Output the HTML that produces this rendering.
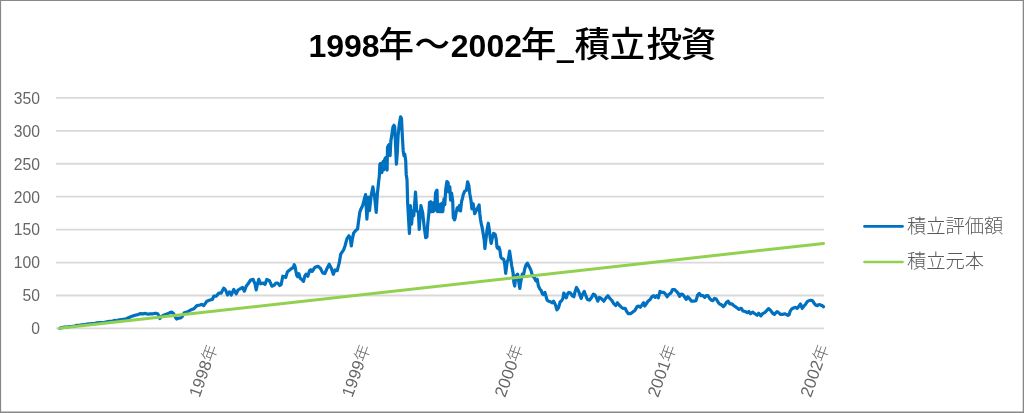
<!DOCTYPE html>
<html><head><meta charset="utf-8"><style>
html,body{margin:0;padding:0;background:#fff;}
svg{display:block;will-change:transform;}
.t{font-family:"Liberation Sans","Noto Sans CJK JP",sans-serif;font-weight:bold;fill:#000;}
.ax{font-family:"Liberation Sans","Noto Sans CJK JP",sans-serif;font-size:15.7px;fill:#666;}
.xl{font-size:16.8px;font-weight:300;}
.tc{font-size:35.5px;font-weight:500;font-family:"Noto Sans CJK JP",sans-serif;}
.tu{font-size:32px;font-weight:bold;font-family:"Noto Sans CJK JP",sans-serif;}
.lg{font-family:"Noto Sans CJK JP",sans-serif;font-size:19.3px;fill:#595959;font-weight:300;}
</style></head><body>
<svg width="1024" height="413" viewBox="0 0 1024 413">
<rect x="0" y="0" width="1024" height="413" fill="#fff"/>
<g fill="#888"><rect x="0" y="0" width="1024" height="1"/><rect x="0" y="0" width="1.1" height="413"/><rect x="1022.7" y="0" width="1.3" height="413"/><rect x="0" y="411.5" width="1024" height="1.5"/></g>
<text class="t" y="57"><tspan x="308.4" font-size="32px">1998</tspan><tspan class="tc" x="378.5">年</tspan><tspan class="tc" x="414.4">～</tspan><tspan x="450.8" font-size="32px">2002</tspan><tspan class="tc" x="520.7">年</tspan><tspan class="tu" x="556.2" y="57.8">_</tspan><tspan class="tc" x="574.6 609.6 646.5 680.7" y="57">積立投資</tspan></text>
<g stroke="#d9d9d9" stroke-width="1.8">
<line x1="56" y1="97.90" x2="824" y2="97.90"/>
<line x1="56" y1="130.83" x2="824" y2="130.83"/>
<line x1="56" y1="163.76" x2="824" y2="163.76"/>
<line x1="56" y1="196.69" x2="824" y2="196.69"/>
<line x1="56" y1="229.62" x2="824" y2="229.62"/>
<line x1="56" y1="262.55" x2="824" y2="262.55"/>
<line x1="56" y1="295.48" x2="824" y2="295.48"/>
<line x1="56" y1="328.41" x2="824" y2="328.41"/>
</g>
<g class="ax" text-anchor="end">
<text x="40" y="103.7">350</text>
<text x="40" y="136.6">300</text>
<text x="40" y="169.6">250</text>
<text x="40" y="202.5">200</text>
<text x="40" y="235.4">150</text>
<text x="40" y="268.4">100</text>
<text x="40" y="301.3">50</text>
<text x="40" y="334.2">0</text>
</g>
<g class="ax">
<text class="xl" transform="translate(218.0,347.3) rotate(-70)" text-anchor="end">1998年</text>
<text class="xl" transform="translate(370.8,347.3) rotate(-70)" text-anchor="end">1999年</text>
<text class="xl" transform="translate(523.6,347.3) rotate(-70)" text-anchor="end">2000年</text>
<text class="xl" transform="translate(676.4,347.3) rotate(-70)" text-anchor="end">2001年</text>
<text class="xl" transform="translate(829.2,347.3) rotate(-70)" text-anchor="end">2002年</text>
</g>
<polyline points="59.6,328.2 62.0,327.6 64.5,327.2 67.0,327.1 69.5,326.5 72.0,326.4 74.5,326.0 77.0,325.4 79.5,325.4 82.0,324.8 84.5,324.7 87.0,324.1 89.5,323.8 92.0,323.7 94.5,323.6 97.0,322.8 99.5,322.6 102.0,322.5 104.5,322.3 107.0,321.8 109.5,321.3 112.0,321.3 114.5,320.4 117.0,320.6 119.5,319.9 122.0,319.5 124.5,319.2 126.2,318.8 129.0,317.5 132.0,316.2 135.0,315.2 138.0,314.6 140.7,313.6 143.0,313.8 145.5,313.4 148.0,314.2 150.5,313.9 153.0,313.8 155.5,313.2 157.7,313.8 158.8,315.5 159.8,318.5 161.0,316.8 163.0,315.5 165.5,314.5 167.4,313.9 169.5,312.8 171.6,312.1 173.5,313.5 175.0,316.5 176.5,319.0 178.5,318.2 180.5,318.0 181.9,317.0 183.2,314.5 184.3,312.7 187.5,311.9 190.6,310.0 193.8,308.8 196.9,305.6 200.0,305.0 201.9,304.4 203.8,305.6 206.9,301.2 210.0,300.0 212.5,299.4 213.8,296.2 216.2,296.2 218.8,293.1 221.2,293.1 223.8,288.1 225.6,290.0 227.5,295.0 229.4,291.9 231.2,295.0 233.8,289.4 236.2,293.8 238.1,290.0 240.0,288.8 242.5,287.5 244.4,291.2 246.2,286.2 248.1,283.8 250.6,280.0 253.1,279.4 255.0,283.8 256.2,290.0 257.5,283.8 258.8,279.4 260.6,283.8 263.1,283.1 265.0,284.4 266.9,279.4 269.4,280.6 271.9,286.2 274.4,285.0 276.0,283.0 277.7,283.0 279.8,285.5 281.1,284.7 282.8,276.2 284.5,276.6 285.7,277.5 287.4,271.9 288.7,270.7 290.4,269.4 292.1,268.1 293.4,267.7 294.2,264.7 295.1,266.9 295.9,271.1 296.8,275.3 297.6,276.6 298.9,273.6 300.2,278.3 301.8,279.6 303.5,281.3 304.8,276.2 306.1,274.1 307.8,276.2 309.5,270.7 310.7,269.8 312.0,271.5 313.3,269.8 314.6,267.7 316.0,266.9 318.3,266.4 320.5,268.5 322.7,272.9 324.8,273.6 327.0,268.5 329.2,264.2 331.4,268.5 333.3,274.3 335.0,270.0 337.2,270.7 339.3,262.7 340.7,254.2 343.6,249.9 345.0,246.0 346.0,242.1 347.0,238.7 348.9,235.8 350.3,238.2 351.3,246.0 352.3,239.2 353.7,232.9 355.7,230.5 357.6,229.0 358.3,223.0 359.8,212.3 361.0,208.9 362.7,205.6 364.4,198.8 365.6,194.6 366.9,219.1 368.3,197.1 369.5,210.6 371.2,195.4 372.9,186.9 374.6,197.1 376.2,212.3 377.4,193.7 378.0,188.0 378.6,182.0 379.3,176.3 379.9,164.2 380.6,163.5 381.2,170.0 381.9,172.5 382.6,163.0 383.2,161.5 383.8,170.0 384.5,160.0 385.2,158.3 385.9,157.5 386.5,168.0 387.1,170.0 387.5,147.3 388.9,144.8 389.5,150.0 390.1,155.7 390.9,140.5 391.8,135.4 393.0,126.9 394.0,125.3 394.7,126.9 395.5,143.9 396.4,164.2 397.2,154.1 398.1,135.4 399.4,123.6 400.6,116.8 401.5,118.5 402.3,135.4 403.2,150.7 404.0,155.8 404.8,154.1 405.7,160.8 406.2,174.4 407.0,179.5 407.7,203.9 409.4,233.5 410.4,205.6 411.6,224.2 412.8,210.6 413.8,215.7 415.5,192.0 416.7,210.6 418.4,212.3 419.2,229.3 420.9,205.6 422.6,212.3 424.3,227.6 425.7,237.7 426.9,236.9 427.7,224.5 428.9,212.8 429.5,202.4 430.6,201.8 431.2,211.7 432.4,203.0 433.0,211.7 434.1,202.4 434.7,210.5 435.5,193.1 436.4,190.8 437.0,190.2 437.6,211.7 438.2,204.7 439.4,211.7 440.5,204.1 441.1,211.7 442.3,203.0 442.8,211.7 444.0,198.9 444.8,204.7 445.7,189.6 446.9,181.5 448.1,182.7 448.6,191.9 449.8,186.7 450.6,200.1 451.6,193.1 452.7,201.2 453.3,217.5 454.5,219.8 455.0,218.7 456.0,213.0 457.2,207.8 458.3,210.0 459.4,205.6 460.5,211.0 461.6,201.2 462.6,198.0 463.0,195.4 464.7,191.2 466.4,190.3 467.6,181.9 468.8,185.2 469.8,193.7 471.0,200.5 471.9,208.9 473.2,203.9 474.7,213.7 476.2,210.8 477.6,207.9 479.1,205.0 479.8,213.7 480.5,219.5 481.3,223.9 482.0,226.8 483.0,232.6 484.2,239.9 484.9,248.6 485.9,239.9 487.1,229.7 488.3,223.2 489.3,229.7 490.3,238.5 491.2,243.5 492.2,238.5 493.6,233.4 495.1,234.1 496.1,238.5 497.0,247.2 498.0,248.6 499.0,247.2 499.9,250.1 500.9,257.4 502.4,258.8 503.8,259.5 504.8,264.6 505.7,273.3 507.1,262.3 508.4,258.9 509.6,251.2 510.5,257.2 511.7,265.6 513.0,272.4 513.9,282.6 514.7,286.0 515.9,275.8 517.6,274.1 518.9,282.6 519.8,288.5 520.6,282.6 522.3,274.1 523.7,274.1 524.9,268.2 526.1,264.8 527.4,263.1 529.1,266.5 530.8,269.9 532.5,275.8 534.2,277.5 535.9,280.9 537.2,279.2 538.4,286.0 540.1,289.3 541.1,290.3 542.2,293.5 543.3,294.6 544.9,292.4 546.0,296.3 547.1,300.1 548.7,301.2 550.4,301.7 552.0,302.8 553.6,301.2 555.3,304.4 556.9,309.9 558.5,307.7 560.2,301.7 561.8,300.6 562.9,298.4 563.8,293.0 564.9,295.2 566.2,297.9 567.8,293.5 568.9,292.4 570.5,293.0 572.2,295.7 573.8,296.8 574.9,292.4 576.5,287.5 578.2,290.3 579.8,294.6 581.2,298.4 582.5,294.6 584.2,291.4 585.8,295.7 587.4,299.5 589.6,300.1 591.3,297.9 593.4,294.1 595.1,295.2 596.7,298.4 597.8,301.2 599.4,297.4 601.1,298.4 603.8,301.2 606.0,297.9 607.9,295.7 609.8,298.4 612.0,300.6 613.6,303.4 615.8,305.5 617.4,302.8 619.1,305.0 621.3,307.2 622.9,308.3 625.1,308.3 626.7,311.5 628.4,313.7 630.5,313.7 632.7,312.1 634.9,310.4 637.1,306.6 638.7,306.1 640.3,307.2 642.0,305.0 643.6,302.8 644.7,306.1 646.3,303.9 648.0,301.2 650.2,299.5 651.8,296.8 653.4,295.7 655.1,297.4 656.7,295.7 658.3,297.9 660.0,291.4 661.6,292.4 663.8,292.4 665.5,294.1 667.1,296.8 668.7,294.6 670.9,293.0 672.5,289.7 674.7,289.7 676.4,291.4 678.0,293.0 679.6,296.3 681.3,294.1 682.9,294.6 684.5,296.8 686.2,299.5 687.8,296.8 689.4,298.4 691.6,301.2 693.8,301.2 696.0,300.6 697.6,295.2 699.3,293.5 700.9,295.7 703.1,295.7 704.7,297.4 706.3,295.7 708.0,295.7 709.6,298.4 711.3,300.1 712.9,300.6 714.5,298.4 716.2,299.0 717.8,301.7 719.4,303.9 721.1,304.5 723.3,306.6 724.9,305.0 726.5,302.3 728.2,301.2 729.8,303.9 732.0,303.9 733.6,305.5 735.3,306.6 736.9,307.7 739.1,309.4 741.3,308.3 742.9,311.0 745.1,311.5 747.3,312.6 748.9,311.5 750.5,313.7 752.7,312.1 754.9,313.7 757.1,315.3 758.7,313.2 760.9,315.9 762.5,313.7 764.7,312.6 766.9,310.4 768.5,308.6 770.2,309.9 772.7,313.3 774.4,314.4 776.0,312.7 777.1,311.6 778.7,312.7 780.4,314.4 782.5,314.4 784.7,313.8 786.4,314.4 788.0,315.4 789.1,314.9 790.2,311.1 791.8,308.9 794.0,307.8 795.6,307.3 797.3,308.4 798.9,306.2 800.5,304.0 802.2,308.4 803.8,306.2 805.4,304.5 807.1,301.8 808.7,300.7 810.9,300.2 812.5,300.7 814.2,303.4 815.8,305.1 817.4,305.6 819.1,304.5 820.7,305.1 822.3,305.6 823.5,306.7" fill="none" stroke="#0070c0" stroke-width="3.2" stroke-linejoin="round" stroke-linecap="round"/>
<line x1="59.2" y1="328.3" x2="823.5" y2="243.4" stroke="#92d050" stroke-width="3" stroke-linecap="round"/>
<line x1="864.5" y1="226.4" x2="902.5" y2="226.4" stroke="#0070c0" stroke-width="2.6" stroke-linecap="round"/>
<line x1="864.5" y1="262" x2="902.5" y2="262" stroke="#92d050" stroke-width="2.6" stroke-linecap="round"/>
<text class="lg" x="907" y="232.5">積立評価額</text>
<text class="lg" x="907" y="267.8">積立元本</text>
</svg>
</body></html>
